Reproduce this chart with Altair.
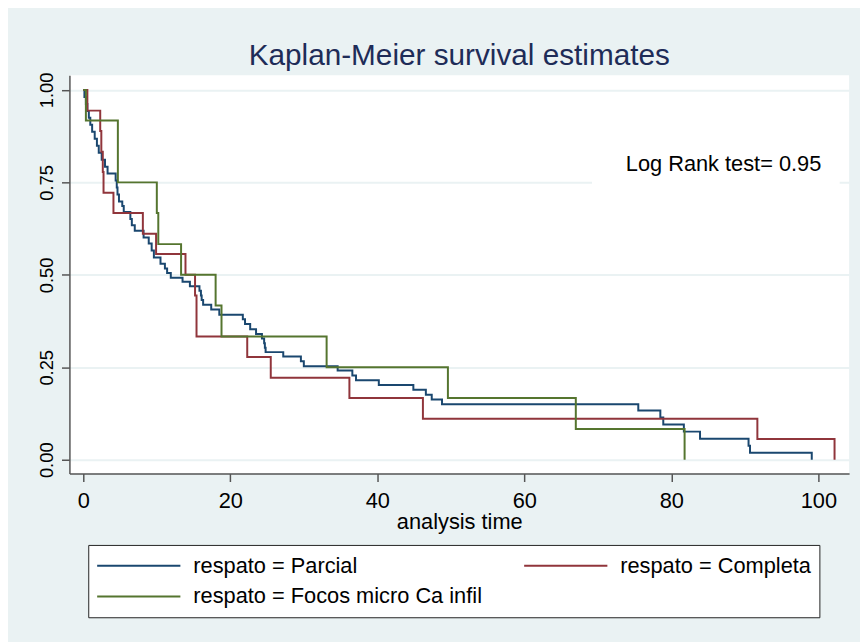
import altair as alt
import pandas as pd

# ---- data ----
groups = ["respato = Parcial", "respato = Completa", "respato = Focos micro Ca infil"]
colors = ["#1A476F", "#90353B", "#55752F"]

parcial_t = [0.0, 0.15, 0.35, 0.55, 0.75, 0.95, 1.2, 1.55, 1.85, 2.1, 2.5, 2.95, 3.3,
             4.4, 4.55, 4.65, 4.85, 5.3, 5.5, 6.4, 6.6, 7.0, 8.2, 8.9, 9.3, 9.6,
             10.5, 11.1, 11.4, 11.9, 13.5, 14.5, 15.8, 16.0, 16.1, 16.3, 17.4, 18.5,
             21.7, 22.0, 22.7, 23.5, 24.3, 24.6, 24.7, 24.8, 27.2, 29.6, 30.0,
             34.6, 36.6, 37.1, 40.2, 44.9, 46.6, 47.4, 48.8, 75.5, 78.5, 78.9,
             81.7, 83.9, 90.5, 90.7, 99.1]
parcial_s = [1.000, 0.981, 0.962, 0.943, 0.925, 0.906, 0.887, 0.868, 0.849, 0.830, 0.811, 0.792, 0.774,
             0.755, 0.736, 0.717, 0.698, 0.686, 0.670, 0.651, 0.634, 0.619, 0.601, 0.585, 0.566, 0.547,
             0.530, 0.517, 0.505, 0.492, 0.481, 0.469, 0.457, 0.444, 0.432, 0.419, 0.406, 0.392,
             0.380, 0.367, 0.353, 0.340, 0.328, 0.315, 0.303, 0.291, 0.279, 0.266, 0.253,
             0.241, 0.228, 0.215, 0.202, 0.189, 0.176, 0.163, 0.150, 0.133, 0.114, 0.095,
             0.076, 0.057, 0.038, 0.019, 0.000]

completa_t = [0.0, 0.55, 2.3, 2.45, 2.65, 2.75, 4.1, 8.1, 9.9, 13.9, 15.2, 15.4,
              22.3, 25.5, 36.2, 46.2, 91.7, 102.2]
completa_s = [1.000, 0.944, 0.889, 0.833, 0.778, 0.722, 0.667, 0.611, 0.556, 0.500, 0.444, 0.333,
              0.278, 0.222, 0.167, 0.111, 0.056, 0.000]

focos_t = [0.0, 0.35, 4.7, 10.0, 10.2, 13.3, 18.0, 18.8, 33.1, 49.6, 67.0, 81.8]
focos_s = [1.000, 0.917, 0.750, 0.667, 0.583, 0.500, 0.417, 0.333, 0.250, 0.167, 0.083, 0.000]

x_ticks = [0, 20, 40, 60, 80, 100]
y_ticks = [0, 0.25, 0.5, 0.75, 1.0]
x_domain = [-1.89, 104.18]
y_domain = [-0.0375, 1.0394]

note_text = ["Log Rank test= 0.95"]
note_x = [87.1]
note_y = [0.80]
note_box_x = [69.2]
note_box_x2 = [102.9]
note_box_y = [0.742]
note_box_y2 = [0.853]

# ---- tables ----
rows = []
for g, ts, ss in zip(groups, [parcial_t, completa_t, focos_t], [parcial_s, completa_s, focos_s]):
    for t, s in zip(ts, ss):
        rows.append({"group": g, "time": t, "surv": s})
df = pd.DataFrame(rows)

note_df = pd.DataFrame({"label": note_text, "time": note_x, "surv": note_y})
box_df = pd.DataFrame({"time": note_box_x, "time2": note_box_x2,
                       "surv": note_box_y, "surv2": note_box_y2})

FONT = "Liberation Sans"

xs = alt.Scale(domain=x_domain, nice=False, zero=False)
ys = alt.Scale(domain=y_domain, nice=False, zero=False)

x_axis = alt.Axis(values=x_ticks, format="d", grid=False, title="analysis time",
                  domainColor="#555555", domainWidth=1.5, tickColor="#555555", tickWidth=1.5,
                  tickSize=8, labelFont=FONT, labelFontSize=22, labelColor="black",
                  labelPadding=9, labelFlush=False, labelOverlap=False,
                  titleFont=FONT, titleFontSize=22, titleFontWeight="normal",
                  titleColor="black", titlePadding=0)
y_axis = alt.Axis(values=y_ticks, format=".2f", grid=True, gridColor="#EAF2F3", gridWidth=2,
                  title=None, domainColor="#555555", domainWidth=1.5, tickColor="#555555",
                  tickWidth=1.5, tickSize=8, labelAngle=270, labelAlign="center",
                  labelBaseline="alphabetic", labelFont=FONT, labelFontSize=18.5,
                  labelColor="black", labelPadding=9, labelFlush=False, labelOverlap=False)

box = alt.Chart(box_df).mark_rect(color="white").encode(
    x=alt.X("time:Q", scale=xs, axis=x_axis),
    x2="time2:Q",
    y=alt.Y("surv:Q", scale=ys, axis=y_axis),
    y2="surv2:Q",
)

lines = alt.Chart(df).mark_line(interpolate="step-after", strokeWidth=2).encode(
    x=alt.X("time:Q", scale=xs, axis=x_axis),
    y=alt.Y("surv:Q", scale=ys, axis=y_axis),
    color=alt.Color("group:N", scale=alt.Scale(domain=groups, range=colors),
                    legend=alt.Legend(title=None, orient="none", legendX=19, legendY=474,
                                      direction="horizontal", columns=2,
                                      symbolType="stroke", symbolSize=7056,
                                      symbolStrokeWidth=2, clipHeight=26, rowPadding=5,
                                      columnPadding=41, labelOffset=12, labelFont=FONT,
                                      labelFontSize=22, labelColor="black", labelLimit=500,
                                      padding=8, fillColor="white", strokeColor="#222222")),
)

note = alt.Chart(note_df).mark_text(font=FONT, fontSize=22, color="black",
                                    align="center", baseline="middle").encode(
    x=alt.X("time:Q", scale=xs, axis=x_axis),
    y=alt.Y("surv:Q", scale=ys, axis=y_axis),
    text="label:N",
)

chart = alt.layer(box, lines, note).properties(
    width=787, height=402,
    title=alt.TitleParams("Kaplan-Meier survival estimates", font=FONT, fontSize=30,
                          fontWeight="normal", color="#1E2C58", anchor="middle",
                          baseline="alphabetic", offset=4, dy=27, frame="group"),
    autosize=alt.AutoSizeParams(type="none"),
    padding={"left": 62, "top": 65, "right": 11, "bottom": 167},
    background="#EAF2F3",
).configure_view(fill="white", strokeWidth=0)

chart.save("out.html", embed_options={"renderer": "svg", "actions": False})
